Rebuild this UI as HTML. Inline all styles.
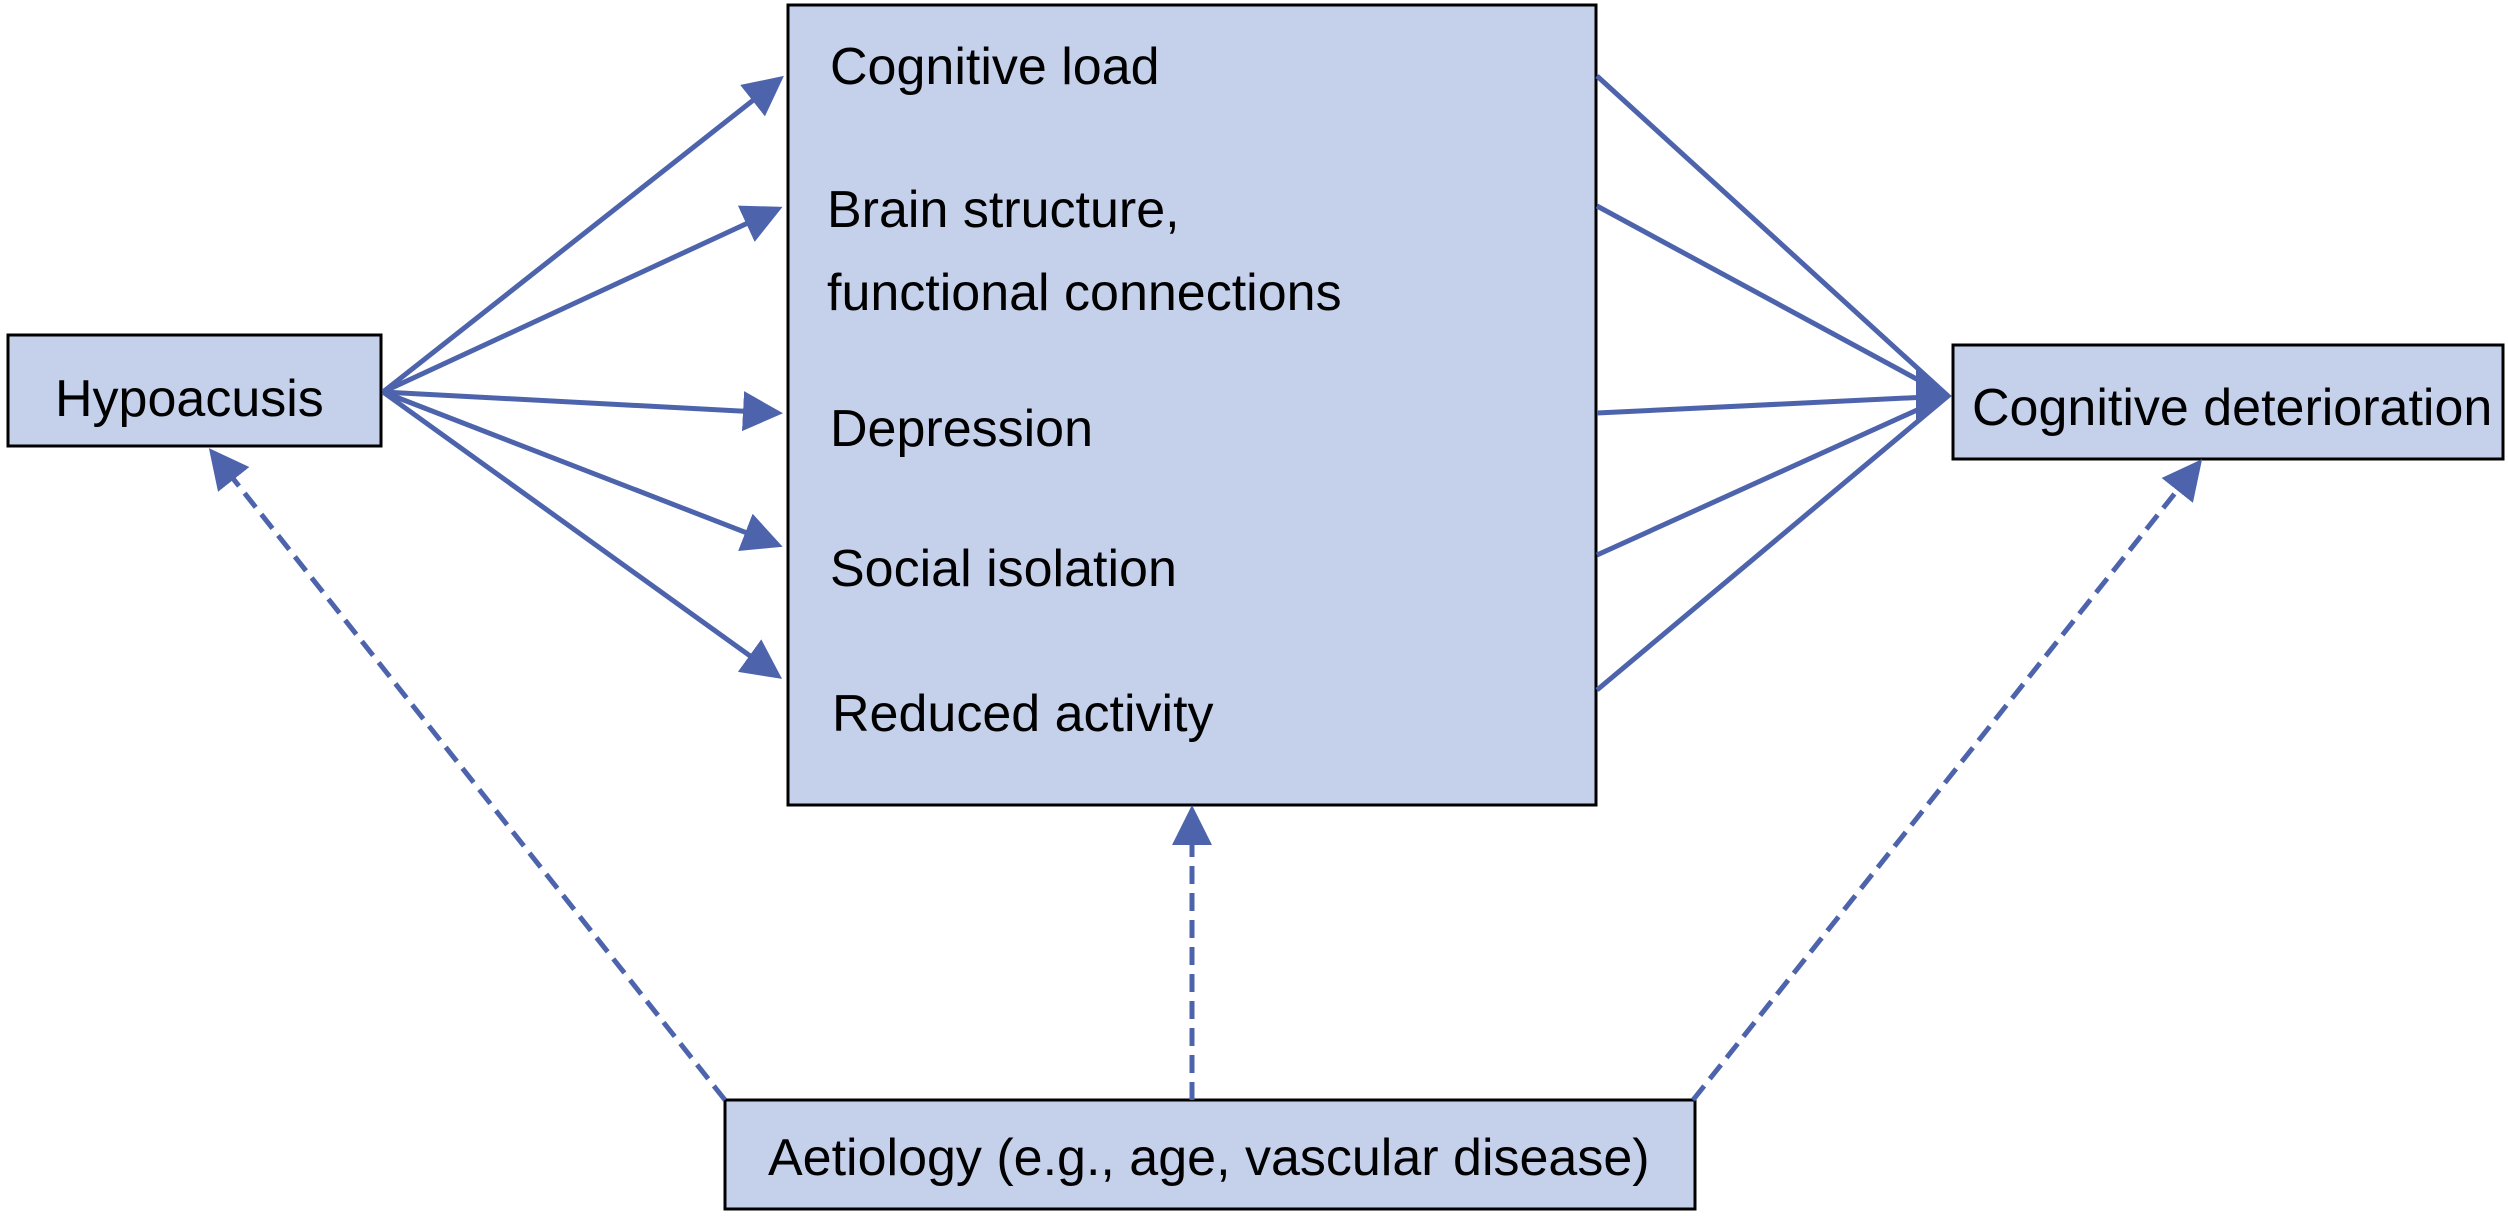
<!DOCTYPE html>
<html><head><meta charset="utf-8"><style>
html,body{margin:0;padding:0;background:#fff;}
svg{display:block;}
text{font-family:"Liberation Sans",Arial,sans-serif;fill:#000;}
</style></head><body>
<svg width="2508" height="1216" viewBox="0 0 2508 1216" xmlns="http://www.w3.org/2000/svg">
<defs>
<marker id="a" markerWidth="8" markerHeight="8" refX="7" refY="4" orient="auto" markerUnits="strokeWidth">
<path d="M0,0 L8,4 L0,8 z" fill="#4d64ad"/></marker>
</defs>
<rect x="8" y="335" width="373" height="111" fill="#c5d0ea" stroke="#000" stroke-width="3"/>
<rect x="788" y="5" width="808" height="800" fill="#c5d0ea" stroke="#000" stroke-width="3"/>
<rect x="1953" y="345" width="550" height="114" fill="#c5d0ea" stroke="#000" stroke-width="3"/>
<rect x="725" y="1100" width="970" height="109" fill="#c5d0ea" stroke="#000" stroke-width="3"/>
<g stroke="#4d64ad" stroke-width="5" fill="none">
<line x1="383" y1="392" x2="780" y2="79" marker-end="url(#a)"/>
<line x1="383" y1="392" x2="778" y2="209" marker-end="url(#a)"/>
<line x1="383" y1="392" x2="778" y2="413" marker-end="url(#a)"/>
<line x1="383" y1="392" x2="778" y2="545" marker-end="url(#a)"/>
<line x1="383" y1="392" x2="778" y2="676" marker-end="url(#a)"/>
<line x1="1597" y1="76" x2="1948" y2="396"/>
<line x1="1597" y1="206" x2="1948" y2="396"/>
<line x1="1597" y1="413" x2="1948" y2="396"/>
<line x1="1597" y1="555" x2="1948" y2="396"/>
<line x1="1597" y1="690" x2="1948" y2="396"/>
</g>
<path d="M1916,370 L1952,396 L1916,422 z" fill="#4d64ad"/>
<g stroke="#4d64ad" stroke-width="5" fill="none" stroke-dasharray="18,9">
<line x1="725" y1="1100" x2="212" y2="452" marker-end="url(#a)"/>
<line x1="1192" y1="1100" x2="1192" y2="810" marker-end="url(#a)"/>
<line x1="1693" y1="1100" x2="2199" y2="463" marker-end="url(#a)"/>
</g>
<g font-size="52">
<text x="55" y="416">Hypoacusis</text>
<text x="830" y="84">Cognitive load</text>
<text x="827" y="227">Brain structure,</text>
<text x="827" y="310">functional connections</text>
<text x="830" y="446">Depression</text>
<text x="830" y="586">Social isolation</text>
<text x="832" y="731">Reduced activity</text>
<text x="1972" y="425">Cognitive deterioration</text>
<text x="768" y="1175">Aetiology (e.g., age, vascular disease)</text>
</g>
</svg>
</body></html>
